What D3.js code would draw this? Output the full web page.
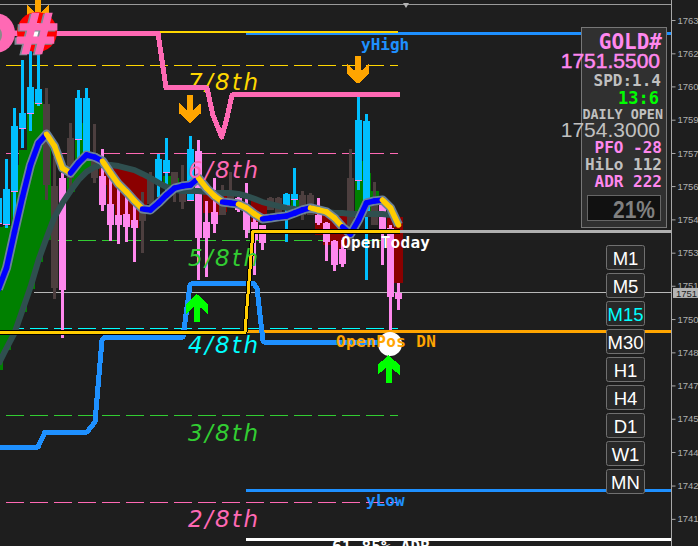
<!DOCTYPE html>
<html><head><meta charset="utf-8">
<script src="https://cdn.jsdelivr.net/npm/d3@7"></script>
<style>html,body{margin:0;padding:0;background:#1e1e1e;overflow:hidden}svg{display:block}</style>
</head><body><svg id="c" width="698" height="546"></svg>
<script>
// ---------- DATA (prices, bar index) ----------
const candleKinds=["up","up","up","up","up","up","flat","flat","down","flat","up","up","flat","down","down","down","down","down","flat","flat","up","up","flat","flat","up","down","down","down","flat","flat","down","down","down","down","flat","flat","up","up","flat","flat","down","down","down","down","flat","up","up","flat","down","down","down"];
const opens=[1754.66,1754.61,1756.08,1758.88,1759.55,1759.99,1759.95,1756.30,1756.66,1758.44,1758.39,1757.68,1757.77,1756.75,1755.50,1755.01,1755.06,1754.79,1755.24,1756.75,1756.48,1756.93,1756.93,1756.44,1755.68,1757.86,1754.70,1755.15,1755.46,1755.90,1755.77,1755.33,1754.70,1754.57,1755.77,1755.77,1755.46,1755.73,1755.90,1755.90,1755.01,1754.66,1753.86,1753.50,1756.66,1756.57,1755.01,1755.68,1755.68,1754.44,1751.55];
const closes=[1755.77,1756.17,1758.97,1759.55,1760.70,1760.61,1756.35,1751.77,1751.68,1756.66,1760.21,1760.21,1756.66,1755.46,1754.57,1754.57,1754.48,1754.44,1754.75,1755.50,1757.50,1757.46,1756.13,1755.59,1757.95,1753.99,1753.99,1754.61,1755.01,1755.55,1755.24,1754.35,1753.90,1753.77,1755.24,1755.10,1755.95,1755.95,1755.01,1755.01,1754.66,1753.81,1752.79,1752.84,1753.46,1759.24,1759.19,1754.57,1754.26,1751.37,1751.28];
const highs=[1756.53,1757.50,1759.77,1761.90,1762.30,1762.21,1760.66,1757.59,1756.88,1759.10,1760.57,1760.66,1759.06,1757.95,1756.93,1756.57,1755.90,1755.46,1756.04,1756.93,1757.73,1758.44,1756.93,1757.24,1758.53,1758.35,1755.64,1756.66,1756.35,1756.93,1755.81,1756.44,1755.24,1754.57,1755.81,1755.81,1755.99,1757.10,1756.08,1755.99,1755.77,1754.70,1753.90,1753.90,1757.95,1760.26,1759.50,1756.48,1755.68,1754.57,1751.99];
const lows=[1754.44,1754.44,1754.57,1757.99,1758.75,1759.86,1755.68,1751.28,1749.55,1756.13,1757.46,1757.46,1756.44,1755.19,1753.86,1753.73,1753.81,1752.93,1753.33,1755.33,1755.81,1756.04,1755.59,1755.28,1755.68,1752.13,1752.26,1754.21,1755.01,1755.55,1755.15,1753.99,1752.35,1753.46,1755.24,1755.06,1753.81,1755.24,1754.79,1755.01,1754.57,1752.97,1752.53,1752.70,1753.46,1756.13,1752.13,1754.57,1752.79,1749.90,1750.79];
const fastMA=[1751.73,1752.66,1754.26,1755.81,1757.24,1758.21,1758.61,1758.08,1757.10,1756.88,1757.33,1757.68,1757.59,1757.41,1756.88,1756.39,1756.04,1755.64,1755.28,1755.24,1755.55,1755.90,1756.21,1756.30,1756.35,1756.66,1756.21,1755.86,1755.59,1755.55,1755.50,1755.33,1755.06,1754.84,1754.88,1754.93,1754.97,1755.10,1755.24,1755.33,1755.24,1755.15,1754.88,1754.48,1754.17,1754.79,1755.55,1755.64,1755.68,1755.33,1754.57];
const fastFalling=[0,0,0,0,0,0,1,1,1,0,0,0,0,1,1,1,1,1,0,0,0,0,0,0,0,1,1,1,0,0,1,1,1,0,0,0,0,0,0,1,1,1,1,0,0,0,0,0,1,1];
const slowMA=[1748.39,1749.10,1749.77,1750.79,1751.81,1753.01,1753.99,1754.93,1755.55,1756.08,1756.57,1756.93,1757.15,1757.24,1757.24,1757.19,1757.10,1757.01,1756.84,1756.66,1756.44,1756.26,1756.13,1756.08,1756.08,1756.08,1756.04,1755.99,1755.99,1755.99,1755.95,1755.86,1755.73,1755.59,1755.50,1755.41,1755.33,1755.28,1755.24,1755.24,1755.19,1755.15,1755.10,1755.10,1755.06,1755.06,1755.06,1755.06,1755.06,1755.01,null];
const shadeOpen=[1748.13,1749.01,1749.68,1750.70,1751.73,1752.93,1753.90,null,null,1756.04,1756.57,1756.93,1757.10,1757.24,1757.24,1757.19,1757.10,1757.01,1756.84,null,null,1756.30,1756.21,null,null,null,1756.04,1755.99,1755.99,null,null,null,1755.68,1755.59,null,null,null,1755.24,null,null,1755.19,1755.15,1755.10,1755.10,null,1754.88,1755.15,1755.46,null,1755.01,1754.93];
const shadeClose=[1754.48,1754.53,1757.24,1757.90,1760.04,1760.04,1758.66,null,null,1756.79,1759.10,1757.68,1757.59,1756.35,1755.46,1755.01,1754.57,1754.44,1755.24,null,null,1756.75,1756.66,null,null,null,1755.10,1755.01,1755.15,null,null,null,1754.70,1754.70,null,null,null,1755.68,null,null,1754.13,1753.68,1753.46,1753.55,null,1757.41,1756.88,1756.08,null,1751.99,1751.99];
const pinkBarIdx=[-1,19.94,20.94,26.06,26.8,27.9,28.5,29.19,50.19];
const pinkBarPrice=[1763.10,1763.10,1760.66,1760.66,1759.46,1758.48,1759.24,1760.35,1760.39];
const blueStepIdx=[-1,4.94,5.81,11.06,12.06,12.94,13.31,23.06,23.94,24.31,31.81,32.31,33.06,33.44,48.94];
const blueStepPrice=[1744.70,1744.70,1745.37,1745.37,1745.81,1749.46,1749.59,1749.59,1751.90,1751.99,1751.99,1751.77,1749.41,1749.33,1749.33];
const openStepIdx=[-1,30.81,31.81,50.19];
const openStepPrice=[1749.81,1749.81,1754.30,1754.30];
const levelNames=["7/8th","6/8th","5/8th","4/8th","3/8th","2/8th"];
const levelPrices=[1761.68,1757.75,1753.88,1749.99,1746.10,1742.24];
const tickValues=[1763.68,1762.2,1760.73,1759.25,1757.77,1756.3,1754.82,1753.34,1751.87,1750.39,1748.91,1747.44,1745.96,1744.48,1742.99,1741.51];
const bid=1751.55, dayOpen=1754.30, yHigh=1763.08, yLow=1742.77, openPos=1749.84, adrLevel=1740.59, lastPos=1749.28;
const downArrowIdx=[4.94,23.94,44.94], downArrowPrice=[1763.46,1759.10,1760.84];
const upArrowIdx=[24.81,48.75], upArrowPrice=[1751.50,1748.79];
const timeframes=["M1","M5","M15","M30","H1","H4","D1","W1","MN"];
const activeTimeframe="M15";
const panelRows=[
 ["GOLD#","mono","pink"],["1751.5500","sans","pink"],["SPD:1.4","mono","grey"],["13:6","mono","lime"],
 ["DAILY OPEN","mono","grey"],["1754.3000","sans","grey"],["PFO -28","mono","pink"],["HiLo 112","mono","grey"],["ADR 222","mono","pink"]];
const gaugeText="21%";

// ---------- SCALES ----------
const W=698,H=546,plotRight=671;
const y=d3.scaleLinear().domain([1764.57,1764.57-H/22.5]).range([0,H]);
const x=d3.scaleLinear().domain([0,50]).range([-1.5,398.5]);
const svg=d3.select("#c");
svg.append("rect").attr("width",W).attr("height",H).attr("fill","#1e1e1e");
const MONO="'DejaVu Sans Mono',monospace", SANS="'Liberation Sans',Arial,sans-serif";
const PINK="#ff88ee",CYAN="#00bfff",BROWN="#4d3f3f",HOT="#ff69b4",DODGER="#1e90ff",GOLD="#ffcc00",ORANGE="#ffa500";
const levelColor=d3.scaleOrdinal(levelNames,["#ffd700",HOT,"#32cd32","#00ffff","#32cd32",HOT]);
const hLine=(x1,x2,p,col,w)=>svg.append("line").attr("x1",x1).attr("x2",x2).attr("y1",y(p)).attr("y2",y(p)).attr("stroke",col).attr("stroke-width",w).attr("shape-rendering","crispEdges");
const path=(idx,pr)=>d3.line().x(i=>x(idx[i])).y(i=>y(pr[i]))(d3.range(idx.length));

// top frame
svg.append("line").attr("x1",0).attr("x2",plotRight).attr("y1",4.5).attr("y2",4.5).attr("stroke","#9a9a9a").attr("stroke-width",1);
svg.append("path").attr("d","M403,3 L409,3 L406,8 Z").attr("fill","#b4b4b4");

// dashed level lines
levelNames.forEach((n,i)=>{
  hLine(6,398,levelPrices[i],levelColor(n),1).attr("stroke-dasharray","18 6");
});

// shade bars
const shadeIdx=d3.range(shadeOpen.length).filter(i=>shadeOpen[i]!==null);
svg.append("g").selectAll("rect").data(shadeIdx).join("rect")
 .attr("x",i=>x(i)-4).attr("width",8)
 .attr("y",i=>y(Math.max(shadeOpen[i],shadeClose[i])))
 .attr("height",i=>Math.abs(y(shadeOpen[i])-y(shadeClose[i])))
 .attr("fill",i=>shadeClose[i]>shadeOpen[i]?"#008000":"#8b0000")
 .attr("shape-rendering","crispEdges");

// current price thin line
hLine(34,plotRight,bid,"#b8b8b8",1);

// candles
const kindColor={up:CYAN,down:PINK,flat:BROWN};
const cg=svg.append("g").attr("shape-rendering","crispEdges");
const cIdx=d3.range(opens.length);
cg.selectAll(".w").data(cIdx).join("rect").attr("class","w")
 .attr("x",i=>x(i)-1.5).attr("width",3)
 .attr("y",i=>y(highs[i])).attr("height",i=>y(lows[i])-y(highs[i]))
 .attr("fill",i=>kindColor[candleKinds[i]]);
cg.selectAll(".b").data(cIdx).join("rect").attr("class","b")
 .attr("x",i=>x(i)-3.5).attr("width",7)
 .attr("y",i=>y(Math.max(opens[i],closes[i]))).attr("height",i=>Math.abs(y(opens[i])-y(closes[i])))
 .attr("fill",i=>kindColor[candleKinds[i]]);
cg.selectAll(".o").data(cIdx.filter(i=>candleKinds[i]==="up")).join("rect").attr("class","o")
 .attr("x",i=>x(i)-3.5).attr("width",7).attr("y",i=>y(opens[i])).attr("height",1).attr("fill",PINK);

// slow MA
svg.append("path").datum(slowMA).attr("fill","none").attr("stroke","#2f4f4f").attr("stroke-width",6)
 .attr("stroke-linejoin","round")
 .attr("d",d3.line().defined(d=>d!==null).x((d,i)=>x(i)).y(d=>y(d)));

// long horizontal objects
hLine(x(31.19),plotRight,dayOpen,"#b0b0b0",3);
hLine(246,plotRight,openPos,ORANGE,3);
hLine(246,plotRight,yHigh,DODGER,3);
svg.append("line").attr("x1",x(19.9)).attr("x2",398).attr("y1",y(yHigh)-1.5).attr("y2",y(yHigh)-1.5).attr("stroke","#ffd700").attr("stroke-width",2).attr("shape-rendering","crispEdges");
hLine(246,plotRight,yLow,DODGER,3);
hLine(246,plotRight,adrLevel,"#ffffff",3);

// fast MA with outline and two-colour core
const fastLine=d3.line().x(i=>x(i)).y(i=>y(fastMA[i]));
svg.append("path").attr("d",fastLine(cIdx)).attr("fill","none").attr("stroke","#6b8299").attr("stroke-width",9).attr("stroke-linejoin","round");
fastFalling.forEach((f,i)=>{
  svg.append("path").attr("d",fastLine([i,i+1])).attr("fill","none")
   .attr("stroke",f?GOLD:"#0000ff").attr("stroke-width",5.5).attr("stroke-linecap","round");
});

// thick stepped lines
svg.append("path").attr("d",path(blueStepIdx,blueStepPrice)).attr("fill","none").attr("stroke",DODGER).attr("stroke-width",5).attr("stroke-linejoin","round").attr("shape-rendering","crispEdges");
svg.append("path").attr("d",path(openStepIdx,openStepPrice)).attr("fill","none").attr("stroke","#000").attr("stroke-width",5).attr("shape-rendering","crispEdges");
svg.append("path").attr("d",path(openStepIdx,openStepPrice)).attr("fill","none").attr("stroke",GOLD).attr("stroke-width",3).attr("shape-rendering","crispEdges");

// level labels
levelNames.forEach((n,i)=>{
  svg.append("text").text(n).attr("x",188).attr("y",y(levelPrices[i])+25).attr("textLength",70).attr("lengthAdjust","spacing")
   .attr("font-family","'DejaVu Sans',sans-serif").attr("font-style","oblique").attr("font-size",23).attr("fill",levelColor(n));
});

// down arrows
const downShape="M-3,-28 L3,-28 L3,-13 L11,-20 L11,-10 L0,0 L-11,-10 L-11,-20 L-3,-13 Z";
svg.append("g").selectAll("path").data(d3.range(downArrowIdx.length)).join("path")
 .attr("d",downShape).attr("fill",ORANGE).attr("shape-rendering","crispEdges")
 .attr("transform",i=>`translate(${x(downArrowIdx[i])},${y(downArrowPrice[i])})`);

// red "#" badge
svg.append("line").attr("x1",8).attr("x2",30).attr("y1",33).attr("y2",33).attr("stroke",HOT).attr("stroke-width",5);
svg.append("path").attr("d",path(pinkBarIdx,pinkBarPrice)).attr("fill","none").attr("stroke",HOT).attr("stroke-width",5).attr("stroke-linejoin","round").attr("shape-rendering","crispEdges");
svg.append("circle").attr("cx",37).attr("cy",32).attr("r",20).attr("fill","#ff0000");
svg.append("circle").attr("cx",-5).attr("cy",33).attr("r",20).attr("fill",HOT);
svg.append("circle").attr("cx",-9).attr("cy",35).attr("r",10).attr("fill","none").attr("stroke","#8a8a8a").attr("stroke-width",2);
svg.append("circle").attr("cx",36).attr("cy",31).attr("r",8).attr("fill","#ffffff");
svg.append("text").text("#").attr("x",35).attr("y",54).attr("text-anchor","middle").attr("font-family","'DejaVu Sans',sans-serif").attr("font-weight","bold").attr("font-size",56).attr("fill","#7f8a96").attr("stroke","#7f8a96").attr("stroke-width",1.5);
svg.append("text").text("#").attr("x",37).attr("y",53).attr("text-anchor","middle").attr("font-family","'DejaVu Sans',sans-serif").attr("font-weight","bold").attr("font-size",56).attr("fill",HOT).attr("stroke",HOT).attr("stroke-width",1.5);

// last position marker
svg.append("circle").attr("cx",x(48.94)).attr("cy",y(lastPos)).attr("r",12).attr("fill","#fff");

// up arrows
const upShape="M-3,28 L3,28 L3,13 L11,20 L11,10 L0,0 L-11,10 L-11,20 L-3,13 Z";
svg.append("g").selectAll("path").data(d3.range(upArrowIdx.length)).join("path")
 .attr("d",upShape).attr("fill","#00ff00").attr("shape-rendering","crispEdges")
 .attr("transform",i=>`translate(${x(upArrowIdx[i])},${y(upArrowPrice[i])})`);

// object labels
const lab=(t,xx,yy,col)=>svg.append("text").text(t).attr("x",xx).attr("y",yy).attr("fill",col).attr("font-family",MONO).attr("font-weight","bold").attr("font-size",16);
lab("yHigh",361,50,DODGER);
lab("yLow",366,506,DODGER);
lab("OpenToday",341,248,"#ffffff").attr("textLength",89);
lab("OpenPos DN",336,347,ORANGE).attr("textLength",100);
lab("61.85% ADR",332,552,"#ffffff").attr("textLength",98);

// info panel
const panel=svg.append("g");
panel.append("rect").attr("x",581.5).attr("y",27.5).attr("width",85).attr("height",200).attr("fill","#303030").attr("stroke","#777");
const rowBase=[48.5,68,86,104,119,137,153,170,187];
const rowSize=[21,21,16,17,13.4,21,16,16,16];
const rowRight=[662,660,661,659,663,660,662,662,662];
const rowStroke=[0,0.5,0,0,0,0,0,0,0];
const panelCol={pink:PINK,grey:"#c0c0c0",lime:"#00ff00"};
panelRows.forEach((r,i)=>{
  panel.append("text").text(r[0]).attr("x",rowRight[i]).attr("y",rowBase[i]).attr("text-anchor","end")
   .attr("font-family",r[1]==="mono"?MONO:SANS).attr("font-weight",r[1]==="mono"?"bold":"normal")
   .attr("font-size",rowSize[i]).attr("fill",panelCol[r[2]])
   .attr("stroke",rowStroke[i]?panelCol[r[2]]:"none").attr("stroke-width",rowStroke[i]);
});
panel.append("rect").attr("x",587.5).attr("y",195.5).attr("width",73).attr("height",25).attr("fill","#111").attr("stroke","#666");
panel.append("text").text(gaugeText).attr("x",655).attr("y",218).attr("text-anchor","end").attr("font-family",SANS).attr("font-weight","bold").attr("font-size",24).attr("textLength",42).attr("lengthAdjust","spacingAndGlyphs").attr("fill","#808080");

// timeframe buttons
const btnY=d3.scalePoint().domain(timeframes).range([245,469]);
const btn=svg.append("g").selectAll("g").data(timeframes).join("g").attr("transform",d=>`translate(606.5,${btnY(d)+.5})`);
btn.append("rect").attr("width",38).attr("height",24).attr("rx",2).attr("fill","#282828").attr("stroke","#707070");
btn.append("text").text(d=>d).attr("x",19).attr("y",19).attr("text-anchor","middle").attr("font-family",SANS).attr("font-size",18.5)
 .attr("fill",d=>d===activeTimeframe?"#00ffff":"#ffffff");

// price axis
const ax=svg.append("g").attr("transform",`translate(${plotRight+.5},0)`)
 .call(d3.axisRight(y).tickValues(tickValues).tickSize(4).tickPadding(2).tickFormat(d=>String(Math.trunc(d))));
ax.selectAll("path").attr("stroke","#a8a8a8").attr("d",`M0,0V${H}`);
ax.selectAll("line").attr("stroke","#a8a8a8");
ax.selectAll("text").attr("fill","#b0b0b0").attr("font-family",SANS).attr("font-size",9.5);
svg.append("rect").attr("x",673).attr("y",y(bid)-5).attr("width",25).attr("height",10).attr("fill","#b4b4b4");
svg.append("text").text(String(Math.trunc(bid))).attr("x",676).attr("y",y(bid)+4).attr("fill","#1e1e1e").attr("font-family",SANS).attr("font-size",9.5);
</script></body></html>
